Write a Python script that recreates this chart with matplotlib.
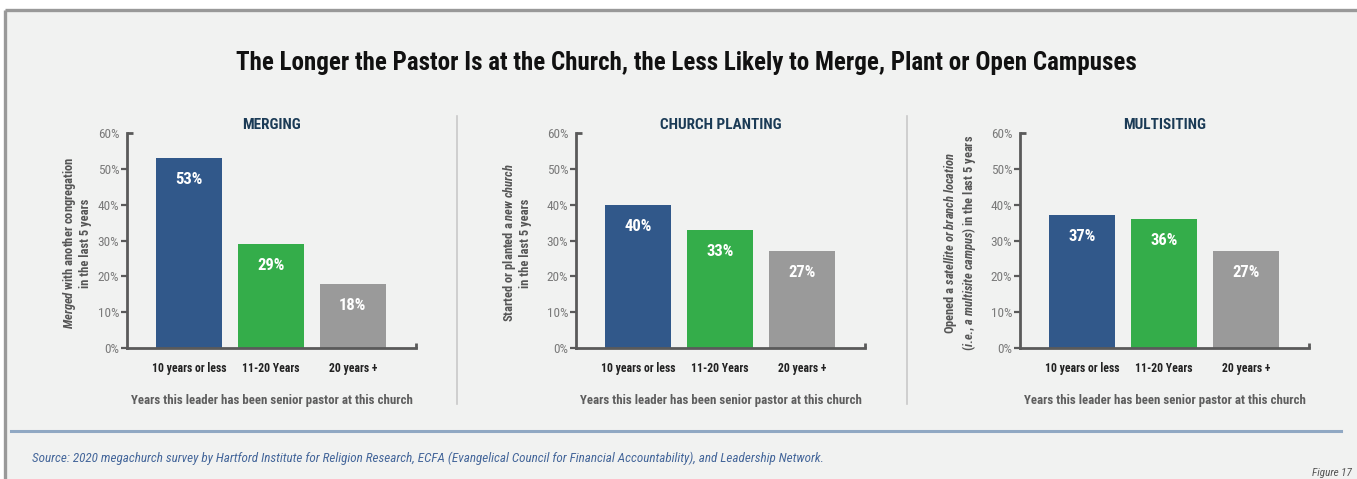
import matplotlib
matplotlib.use("Agg")
import matplotlib.pyplot as plt
from matplotlib import font_manager
from matplotlib.lines import Line2D

# ---- data -------------------------------------------------------------
categories = ["10 years or less", "11-20 Years", "20 years +"]
panel_titles = ["MERGING", "CHURCH PLANTING", "MULTISITING"]
merging = [53, 29, 18]
planting = [40, 33, 27]
multisiting = [37, 36, 27]
y_ticks = [0, 10, 20, 30, 40, 50, 60]
y_labels = [
    "$\\mathit{Merged}$ with another congregation\nin the last 5 years",
    "Started or planted a $\\mathit{new}$ $\\mathit{church}$\nin the last 5 years",
    "Opened a $\\mathit{satellite}$ $\\mathit{or}$ $\\mathit{branch}$ $\\mathit{location}$\n"
    "$\\mathit{(i.\\!e.\\!{,}}$ $\\mathit{a}$ $\\mathit{multisite}$ $\\mathit{campus)}$ in the last 5 years",
]
x_title = "Years this leader has been senior pastor at this church"
title = "The Longer the Pastor Is at the Church, the Less Likely to Merge, Plant or Open Campuses"
source = ("Source: 2020 megachurch survey by Hartford Institute for Religion Research, ECFA "
          "(Evangelical Council for Financial Accountability), and Leadership Network.")
fig_note = "Figure 17"

# ---- styling ----------------------------------------------------------
available = {f.name for f in font_manager.fontManager.ttflist}
FONT = "Liberation Sans"
for cand in ["Liberation Sans Narrow", "Roboto Condensed", "Open Sans Condensed"]:
    if cand in available:
        FONT = cand
        break
plt.rcParams["font.family"] = [FONT, "DejaVu Sans"]
plt.rcParams["mathtext.fontset"] = "custom"
plt.rcParams["mathtext.it"] = FONT + ":italic:bold"
plt.rcParams["mathtext.rm"] = FONT + ":bold"
plt.rcParams["mathtext.bf"] = FONT + ":bold"

BG = "#f1f2f1"
BAR_COLORS = ["#31588a", "#34ad4a", "#9a9a9a"]
SPINE = "#5a5a5a"

W, H = 1357, 479
fig = plt.figure(figsize=(W / 100, H / 100), dpi=100)
fig.patch.set_facecolor("white")


def fx(px):
    return px / W


def fy(py):
    return 1 - py / H


# panel background and frame
fig.patches.append(plt.Rectangle((fx(5), 0), 1 - fx(5), fy(10), transform=fig.transFigure,
                                 facecolor=BG, edgecolor="none", zorder=-5))
fig.lines.append(Line2D([fx(5), 1], [fy(10), fy(10)], transform=fig.transFigure,
                        color="#999999", lw=2.4, solid_capstyle="butt"))
fig.lines.append(Line2D([fx(5), fx(5)], [0, fy(10)], transform=fig.transFigure,
                        color="#999999", lw=2.4, solid_capstyle="butt"))

fig.text(0.5055, fy(62.5), title, ha="center", va="center", fontsize=18,
         fontweight="bold", color="#111111")

panel_left = [127, 576, 1020]
ax_w, ax_top, ax_bot = 289, 133, 348
series = [merging, planting, multisiting]
ylab_x = [76, 517, 960]

for i, (vals, left) in enumerate(zip(series, panel_left)):
    ax = fig.add_axes([fx(left), fy(ax_bot), ax_w / W, (ax_bot - ax_top) / H])
    ax.set_facecolor("none")
    xs = list(range(len(categories)))
    ax.bar(xs, vals, width=0.8, color=BAR_COLORS, zorder=2)
    ax.set_xlim(-0.756, 2.77)
    ax.set_ylim(0, 60)
    ax.set_yticks(y_ticks)
    ax.set_yticklabels([f"{t}%" for t in y_ticks], fontsize=9.5, color="#7a7a7a")
    ax.set_xticks(xs)
    ax.set_xticklabels(categories, fontsize=8.5, fontweight="bold", color="#222222")
    ax.tick_params(axis="y", length=4, width=1.6, color=SPINE, pad=1.5)
    ax.tick_params(axis="x", length=0, pad=10)
    ax.yaxis.get_major_ticks()[-1].tick1line.set_visible(False)
    for s in ["top", "right"]:
        ax.spines[s].set_visible(False)
    for s in ["left", "bottom"]:
        ax.spines[s].set_color(SPINE)
        ax.spines[s].set_linewidth(2)
    # end caps on the axis lines
    ax.plot([0, 0.022], [1, 1], transform=ax.transAxes, color=SPINE, lw=2,
            clip_on=False, solid_capstyle="butt")
    ax.plot([1, 1], [0, 0.025], transform=ax.transAxes, color=SPINE, lw=2,
            clip_on=False, solid_capstyle="butt")
    for x, v in zip(xs, vals):
        ax.text(x, v - 6, f"{v}%", ha="center", va="center", color="white",
                fontsize=12, fontweight="bold", zorder=3)
    ax.set_title(panel_titles[i], fontsize=11, fontweight="bold", color="#1b3b56", pad=3)
    ax.set_xlabel(x_title, fontsize=9.3, fontweight="bold", color="#5e5e5e", labelpad=14)
    fig.text(fx(ylab_x[i]), fy(243), y_labels[i], rotation=90, ha="center", va="center",
             fontsize=9, fontweight="bold", color="#555555", multialignment="center",
             linespacing=1.1)

# vertical dividers between panels
for xd in [457, 907]:
    fig.lines.append(Line2D([fx(xd), fx(xd)], [fy(404), fy(116)], transform=fig.transFigure,
                            color="#c9c9c9", lw=1.2))

# bottom rule and source note
fig.lines.append(Line2D([fx(11), fx(1341)], [fy(431), fy(431)], transform=fig.transFigure,
                        color="#90a8c3", lw=2.2))
fig.text(fx(32), fy(458), source, ha="left", va="center", fontsize=9.45, style="italic",
         color="#44669a")
fig.text(fx(1352), fy(473), fig_note, ha="right", va="center", fontsize=8, style="italic",
         color="#555555")

fig.savefig("out.png", dpi=100, facecolor=fig.get_facecolor())
